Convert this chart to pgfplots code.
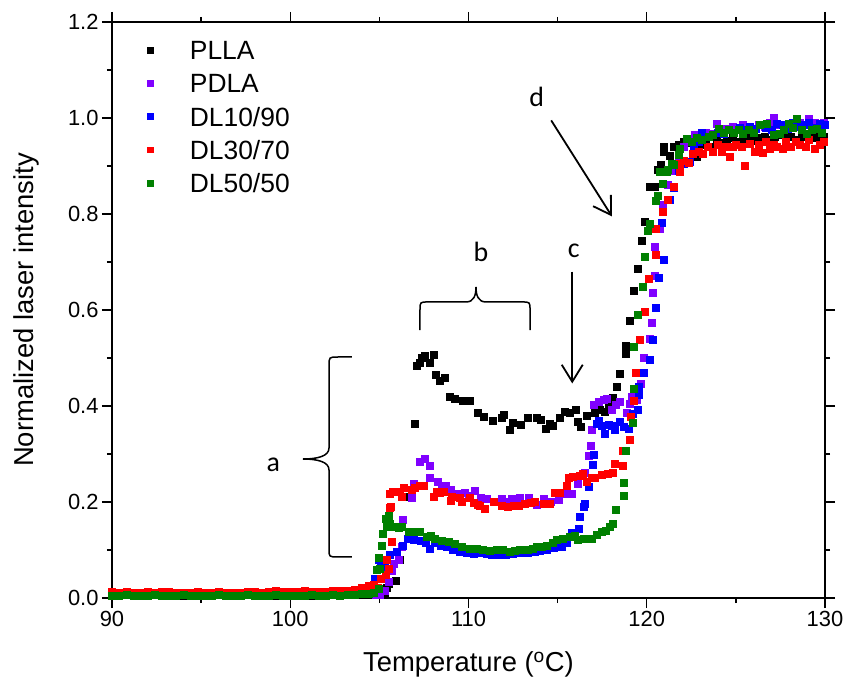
\documentclass[border=0pt]{standalone}
\usepackage{fontspec}
\setmainfont{Liberation Sans}
\newfontfamily\calibri{Carlito}
\usepackage{pgfplots}
\pgfplotsset{compat=1.18}
\usetikzlibrary{arrows.meta}
\definecolor{cviolet}{RGB}{128,0,255}
\definecolor{cblue}{RGB}{0,0,255}
\definecolor{cred}{RGB}{255,0,0}
\definecolor{cgreen}{RGB}{0,128,0}
\begin{document}
\begin{tikzpicture}
\begin{axis}[
  name=ax,
  scale only axis, width=713bp, height=576bp,
  xmin=90, xmax=130, ymin=0, ymax=1.2,
  xtick={90,100,110,120,130}, ytick={0,0.2,0.4,0.6,0.8,1.0,1.2},
  minor x tick num=1, minor y tick num=1,
  tick align=outside,
  major tick length=10bp, minor tick length=5bp,
  axis line style={line width=1.6bp},
  every tick/.style={line width=1.4bp, black},
  /pgf/number format/assume math mode=true,
  yticklabel style={/pgf/number format/fixed, /pgf/number format/fixed zerofill, /pgf/number format/precision=1},
  tick label style={font=\fontsize{22}{25}\selectfont},
  label style={font=\fontsize{27.5}{31}\selectfont},
  xlabel={Temperature (\textsuperscript{o}C)},
  ylabel={Normalized laser intensity},
  xlabel style={at={(axis description cs:0.5,-0.116)}, anchor=center},
  ylabel style={at={(axis description cs:-0.1206,0.5)}, anchor=center},
  legend cell align=left,
  legend style={draw=none, fill=none, at={(axis description cs:0,1)}, anchor=north west,
    xshift=34.7bp, yshift=-18.5bp, inner sep=0pt, row sep=14.3bp, column sep=0pt,
    font=\fontsize{26.5}{30}\selectfont,
    nodes={inner sep=0pt, text height=19bp, text depth=0bp}},
  legend image code/.code={\path[draw=none,fill=none] (0bp,0bp) -- (43bp,0bp); \fill[#1, draw=none] (0bp,-3.4bp) rectangle (6.8bp,3.4bp);},
  every axis plot/.append style={only marks, mark=square*, mark size=3.5bp, mark options={draw=none}},
]
% PLLA
\addplot[color=black] coordinates {
(90.0,0.006)(90.4,0.005)(90.8,0.007)(91.2,0.006)(91.6,0.005)(92.0,0.006)(92.4,0.006)(92.8,0.005)(93.2,0.007)(93.6,0.006)
(94.0,0.005)(94.4,0.006)(94.8,0.007)(95.2,0.006)(95.6,0.005)(96.0,0.006)(96.4,0.007)(96.8,0.006)(97.2,0.005)(97.6,0.006)
(98.0,0.007)(98.4,0.006)(98.8,0.006)(99.2,0.005)(99.6,0.006)(100.0,0.007)(100.4,0.006)(100.8,0.006)(101.2,0.005)(101.6,0.006)
(102.0,0.007)(102.4,0.006)(102.8,0.006)(103.2,0.007)(103.6,0.006)(104.0,0.006)(104.4,0.007)(104.8,0.006)(105.1,0.006)
(105.32,0.012)(105.42,0.022)(105.55,0.03)(105.9,0.037)(106.14,0.079)(106.53,0.211)(107.0,0.364)(107.09,0.483)(107.24,0.49)
(107.4,0.5)(107.56,0.504)(107.8,0.49)(108.03,0.506)(108.14,0.465)(108.4,0.453)(108.64,0.458)(108.93,0.419)(109.25,0.416)
(109.67,0.411)(110.08,0.411)(110.5,0.385)(110.83,0.378)(111.36,0.37)(111.86,0.375)(111.96,0.382)(112.29,0.35)(112.48,0.365)
(112.93,0.36)(113.3,0.375)(113.83,0.375)(114.05,0.371)(114.35,0.353)(114.57,0.364)(114.72,0.359)(115.1,0.375)(115.41,0.388)
(115.69,0.385)(116.03,0.393)(116.1,0.367)(116.29,0.357)(116.63,0.379)(117.1,0.385)(117.38,0.392)(117.66,0.388)(117.85,0.4)
(118.09,0.418)(118.31,0.44)(118.46,0.467)(118.82,0.508)(118.84,0.525)(119.02,0.578)(119.29,0.64)(119.47,0.687)(119.72,0.745)
(119.86,0.783)(120.18,0.857)(120.46,0.856)(120.6,0.893)(120.8,0.902)(120.93,0.94)(120.95,0.93)(121.27,0.921)(121.49,0.94)
(121.8,0.945)(122.1,0.95)(122.4,0.948)(122.8,0.92)(123.0,0.945)(123.3,0.95)(123.6,0.94)(123.9,0.955)(124.2,0.948)(124.5,0.952)
(124.8,0.958)(125.1,0.95)(125.4,0.955)(125.7,0.96)(126.0,0.953)(126.3,0.958)(126.6,0.962)(126.9,0.955)(127.2,0.96)(127.5,0.965)
(127.8,0.958)(128.1,0.962)(128.4,0.955)(128.7,0.96)(129.0,0.965)(129.3,0.958)(129.6,0.962)(129.9,0.96)
};
\addlegendentry{PLLA}
% PDLA
\addplot[color=cviolet] coordinates {
(90.0,0.007)(90.4,0.008)(90.8,0.007)(91.2,0.006)(91.6,0.008)(92.0,0.007)(92.4,0.007)(92.8,0.008)(93.2,0.006)(93.6,0.007)
(94.0,0.008)(94.4,0.007)(94.8,0.007)(95.2,0.006)(95.6,0.008)(96.0,0.007)(96.4,0.007)(96.8,0.008)(97.2,0.007)(97.6,0.006)
(98.0,0.007)(98.4,0.008)(98.8,0.007)(99.2,0.007)(99.6,0.008)(100.0,0.007)(100.4,0.006)(100.8,0.007)(101.2,0.008)(101.6,0.007)
(102.0,0.007)(102.4,0.008)(102.8,0.007)(103.2,0.008)(103.6,0.007)(104.0,0.008)(104.4,0.008)(104.8,0.006)(105.03,0.006)
(105.31,0.015)(105.5,0.034)(105.7,0.057)(105.82,0.072)(106.06,0.08)(106.25,0.107)(106.3,0.164)(106.81,0.208)(106.9,0.239)
(107.24,0.283)(107.56,0.291)(107.8,0.275)(107.85,0.251)(108.27,0.242)(108.5,0.232)(108.72,0.234)(109.0,0.225)(109.44,0.217)
(109.8,0.22)(110.0,0.213)(110.36,0.224)(110.7,0.21)(111.02,0.206)(111.4,0.2)(111.86,0.206)(112.1,0.2)(112.4,0.206)(112.89,0.208)
(113.35,0.208)(113.83,0.194)(114.2,0.206)(114.6,0.2)(115.04,0.204)(115.51,0.217)(115.79,0.217)(116.15,0.239)(116.54,0.261)
(116.73,0.296)(116.86,0.317)(116.9,0.35)(117.04,0.402)(117.28,0.409)(117.56,0.413)(117.75,0.415)(118.03,0.393)(118.25,0.402)
(118.5,0.408)(118.87,0.386)(119.06,0.405)(119.15,0.419)(119.43,0.414)(119.66,0.447)(119.81,0.5)(120.18,0.541)(120.28,0.574)
(120.33,0.636)(120.42,0.671)(120.44,0.731)(120.74,0.769)(120.89,0.819)(121.2,0.86)(121.5,0.89)(121.8,0.915)(122.1,0.94)
(122.4,0.955)(122.7,0.965)(123.0,0.962)(123.3,0.97)(123.6,0.968)(123.92,0.989)(124.2,0.975)(124.5,0.978)(124.8,0.982)
(125.1,0.975)(125.4,0.985)(125.7,0.98)(126.0,0.978)(126.3,0.985)(126.6,0.982)(126.9,0.99)(127.1,1.0)(127.4,0.985)(127.7,0.98)
(128.0,0.988)(128.3,0.982)(128.6,0.99)(128.9,0.985)(129.06,0.998)(129.4,0.99)(129.7,0.985)(129.95,0.99)
};
\addlegendentry{PDLA}
% DL10/90
\addplot[color=cblue] coordinates {
(90.0,0.007)(90.4,0.007)(90.8,0.008)(91.2,0.007)(91.6,0.006)(92.0,0.007)(92.4,0.008)(92.8,0.007)(93.2,0.007)(93.6,0.006)
(94.0,0.007)(94.4,0.008)(94.8,0.007)(95.2,0.007)(95.6,0.006)(96.0,0.007)(96.4,0.008)(96.8,0.007)(97.2,0.007)(97.6,0.008)
(98.0,0.007)(98.4,0.006)(98.8,0.007)(99.2,0.008)(99.6,0.007)(100.0,0.007)(100.4,0.008)(100.8,0.007)(101.2,0.006)(101.6,0.007)
(102.0,0.008)(102.4,0.007)(102.8,0.008)(103.2,0.007)(103.6,0.008)(104.0,0.009)(104.4,0.012)(104.6,0.02)(104.75,0.041)
(104.85,0.06)(104.94,0.079)(105.06,0.064)(105.3,0.07)(105.6,0.09)(105.97,0.096)(106.3,0.11)(106.6,0.124)(106.9,0.122)
(107.3,0.12)(107.6,0.116)(107.84,0.103)(108.1,0.115)(108.45,0.11)(108.8,0.106)(109.1,0.1)(109.52,0.096)(109.9,0.095)
(110.27,0.093)(110.6,0.095)(111.0,0.092)(111.3,0.091)(111.7,0.09)(112.1,0.091)(112.5,0.093)(112.9,0.095)(113.3,0.095)
(113.7,0.097)(114.0,0.098)(114.4,0.1)(114.8,0.105)(115.22,0.107)(115.5,0.115)(115.79,0.136)(116.16,0.145)(116.26,0.169)
(116.45,0.19)(116.54,0.196)(116.73,0.232)(116.95,0.277)(117.04,0.298)(117.19,0.363)(117.3,0.37)(117.47,0.358)(117.66,0.342)
(117.85,0.36)(118.03,0.358)(118.22,0.351)(118.5,0.367)(118.72,0.357)(118.97,0.353)(119.21,0.383)(119.47,0.392)(119.53,0.44)
(119.57,0.424)(119.85,0.47)(120.18,0.496)(120.31,0.538)(120.5,0.605)(120.65,0.668)(120.84,0.782)(120.93,0.704)(121.27,0.829)
(121.5,0.855)(121.8,0.89)(122.1,0.905)(122.4,0.909)(122.61,0.937)(122.9,0.95)(123.1,0.97)(123.4,0.96)(123.7,0.965)(124.0,0.97)
(124.3,0.968)(124.6,0.975)(124.9,0.97)(125.2,0.98)(125.5,0.975)(125.8,0.982)(126.1,0.978)(126.4,0.985)(126.7,0.98)(127.0,0.975)
(127.3,0.988)(127.6,0.985)(127.9,0.978)(128.2,0.99)(128.5,0.982)(128.8,0.985)(129.1,0.99)(129.4,0.98)(129.7,0.988)(130.0,0.985)
};
\addlegendentry{DL10/90}
% DL30/70
\addplot[color=cred] coordinates {
(90.0,0.013)(90.4,0.012)(90.8,0.014)(91.2,0.012)(91.6,0.011)(92.0,0.013)(92.4,0.012)(92.8,0.013)(93.2,0.014)(93.6,0.012)
(94.0,0.011)(94.4,0.012)(94.8,0.013)(95.2,0.012)(95.6,0.011)(96.0,0.013)(96.4,0.012)(96.8,0.011)(97.2,0.012)(97.6,0.013)
(98.0,0.014)(98.4,0.012)(98.8,0.013)(99.2,0.015)(99.6,0.014)(100.0,0.013)(100.4,0.014)(100.8,0.015)(101.2,0.014)(101.6,0.013)
(102.0,0.014)(102.4,0.015)(102.8,0.016)(103.2,0.015)(103.6,0.018)(104.0,0.022)(104.19,0.02)(104.4,0.025)(104.66,0.027)
(104.91,0.022)(105.07,0.041)(105.36,0.048)(105.41,0.079)(105.5,0.062)(105.57,0.189)(105.63,0.19)(105.56,0.217)(105.69,0.117)
(105.73,0.222)(106.12,0.221)(106.25,0.211)(106.34,0.229)(106.81,0.225)(107.0,0.23)(107.28,0.233)(107.48,0.235)(108.02,0.211)
(108.23,0.221)(108.4,0.219)(108.63,0.221)(109.0,0.203)(109.08,0.212)(109.52,0.208)(109.6,0.2)(110.05,0.208)(110.27,0.199)
(110.5,0.194)(110.65,0.192)(110.93,0.187)(111.39,0.201)(111.86,0.192)(112.2,0.19)(112.52,0.192)(112.8,0.192)(113.17,0.197)
(113.5,0.198)(113.73,0.201)(114.2,0.197)(114.57,0.197)(114.85,0.219)(115.13,0.219)(115.51,0.235)(115.6,0.251)(115.85,0.253)
(116.26,0.254)(116.4,0.258)(116.63,0.242)(116.9,0.25)(117.1,0.251)(117.47,0.256)(117.79,0.258)(118.09,0.261)(118.22,0.279)
(118.63,0.276)(118.65,0.307)(119.02,0.329)(119.12,0.378)(119.29,0.41)(119.4,0.469)(119.58,0.538)(119.86,0.597)(120.09,0.665)
(120.5,0.716)(120.52,0.77)(120.89,0.804)(121.2,0.83)(121.53,0.856)(121.83,0.888)(121.85,0.904)(122.1,0.91)(122.33,0.907)
(122.6,0.925)(122.9,0.93)(123.14,0.925)(123.4,0.94)(123.7,0.93)(124.0,0.945)(124.2,0.93)(124.4,0.94)(124.63,0.919)(124.8,0.94)
(125.0,0.945)(125.3,0.94)(125.51,0.9)(125.8,0.946)(126.07,0.93)(126.3,0.945)(126.5,0.927)(126.7,0.95)(126.9,0.935)(127.1,0.945)
(127.3,0.94)(127.6,0.935)(127.8,0.95)(128.1,0.94)(128.35,0.95)(128.6,0.945)(128.9,0.94)(129.1,0.955)(129.4,0.935)(129.7,0.945)
(129.95,0.95)
};
\addlegendentry{DL30/70}
% DL50/50
\addplot[color=cgreen] coordinates {
(90.0,0.005)(90.4,0.004)(90.8,0.006)(91.2,0.005)(91.6,0.005)(92.0,0.004)(92.4,0.006)(92.8,0.005)(93.2,0.004)(93.6,0.005)
(94.0,0.006)(94.4,0.005)(94.8,0.004)(95.2,0.005)(95.6,0.005)(96.0,0.006)(96.4,0.004)(96.8,0.005)(97.2,0.005)(97.6,0.006)
(98.0,0.005)(98.4,0.004)(98.8,0.005)(99.2,0.006)(99.6,0.005)(100.0,0.005)(100.4,0.004)(100.8,0.005)(101.2,0.006)(101.6,0.005)
(102.0,0.005)(102.4,0.006)(102.8,0.005)(103.2,0.006)(103.6,0.007)(104.0,0.008)(104.4,0.01)(104.66,0.012)(104.94,0.02)
(104.85,0.058)(104.99,0.083)(105.0,0.061)(105.13,0.11)(105.19,0.135)(105.36,0.166)(105.41,0.149)(105.5,0.171)(105.56,0.155)
(105.69,0.149)(105.8,0.148)(106.06,0.147)(106.27,0.148)(106.62,0.138)(106.99,0.138)(107.28,0.139)(107.65,0.128)(107.9,0.13)
(108.12,0.124)(108.5,0.12)(108.87,0.117)(109.25,0.114)(109.62,0.107)(110.09,0.103)(110.46,0.102)(110.8,0.1)(111.2,0.099)
(111.6,0.1)(111.94,0.1)(112.3,0.097)(112.6,0.098)(112.9,0.1)(113.3,0.1)(113.6,0.102)(113.83,0.107)(114.1,0.107)(114.4,0.11)
(114.7,0.115)(114.95,0.121)(115.3,0.124)(115.7,0.128)(115.94,0.13)(116.1,0.121)(116.45,0.124)(116.9,0.124)(117.2,0.131)
(117.46,0.139)(117.71,0.14)(117.9,0.149)(118.09,0.154)(118.26,0.185)(118.69,0.213)(118.72,0.241)(118.8,0.307)(119.19,0.365)
(119.25,0.435)(119.27,0.524)(119.47,0.59)(119.77,0.649)(119.86,0.71)(120.03,0.765)(120.18,0.78)(120.52,0.828)(120.6,0.838)
(120.74,0.888)(120.87,0.864)(121.12,0.888)(121.15,0.892)(121.4,0.904)(121.5,0.902)(121.77,0.924)(121.87,0.937)(122.24,0.956)
(122.5,0.95)(122.8,0.958)(123.1,0.955)(123.45,0.961)(123.7,0.965)(124.01,0.978)(124.3,0.97)(124.57,0.975)(124.85,0.97)
(125.14,0.975)(125.4,0.968)(125.7,0.975)(126.0,0.97)(126.35,0.985)(126.73,0.989)(127.1,0.965)(127.47,0.967)(127.7,0.975)
(127.94,0.989)(128.2,0.98)(128.41,0.999)(128.7,0.975)(128.97,0.968)(129.25,0.975)(129.53,0.978)(129.8,0.97)
};
\addlegendentry{DL50/50}
% annotations
\node[font=\calibri\fontsize{28}{30}\selectfont] at (axis cs:99.05,0.277) {a};
\node[font=\calibri\fontsize{28}{30}\selectfont] at (axis cs:110.7,0.722) {b};
\node[font=\calibri\fontsize{28}{30}\selectfont] at (axis cs:115.9,0.724) {c};
\node[font=\calibri\fontsize{28}{30}\selectfont] at (axis cs:113.83,1.043) {d};
% brace a
\draw[line width=1.5bp] (axis cs:103.464,0.50208) -- (axis cs:102.679,0.50208)
  .. controls (axis cs:102.174,0.50208) and (axis cs:102.174,0.50208) .. (axis cs:102.174,0.48333)
  -- (axis cs:102.174,0.3125)
  .. controls (axis cs:102.174,0.29583) and (axis cs:101.557,0.28958) .. (axis cs:100.715,0.28958)
  .. controls (axis cs:101.557,0.28958) and (axis cs:102.174,0.28333) .. (axis cs:102.174,0.26667)
  -- (axis cs:102.174,0.10208)
  .. controls (axis cs:102.174,0.08542) and (axis cs:102.174,0.08542) .. (axis cs:102.679,0.08542)
  -- (axis cs:103.464,0.08542);
% brace b
\draw[line width=1.5bp] (axis cs:107.279,0.5583) -- (axis cs:107.279,0.6)
  .. controls (axis cs:107.279,0.6167) and (axis cs:107.279,0.6167) .. (axis cs:107.728,0.6167)
  -- (axis cs:109.86,0.6167)
  .. controls (axis cs:110.309,0.6167) and (axis cs:110.421,0.63125) .. (axis cs:110.421,0.6479)
  .. controls (axis cs:110.421,0.63125) and (axis cs:110.533,0.6167) .. (axis cs:110.982,0.6167)
  -- (axis cs:113.002,0.6167)
  .. controls (axis cs:113.451,0.6167) and (axis cs:113.451,0.6167) .. (axis cs:113.451,0.6)
  -- (axis cs:113.451,0.5583);
% arrows
\draw[line width=1.8bp, -{Straight Barb[length=17bp,width=21bp,line width=1.8bp]}] (axis cs:115.82,0.68) -- (axis cs:115.82,0.447);
\draw[line width=1.8bp, -{Straight Barb[length=17bp,width=21bp,line width=1.8bp]}] (axis cs:114.64,0.995) -- (axis cs:118.05,0.795);
\end{axis}
\pgfresetboundingbox
\path (ax.south west) ++(-112bp,-91bp) rectangle ++(844bp,689bp);
\end{tikzpicture}
\end{document}
